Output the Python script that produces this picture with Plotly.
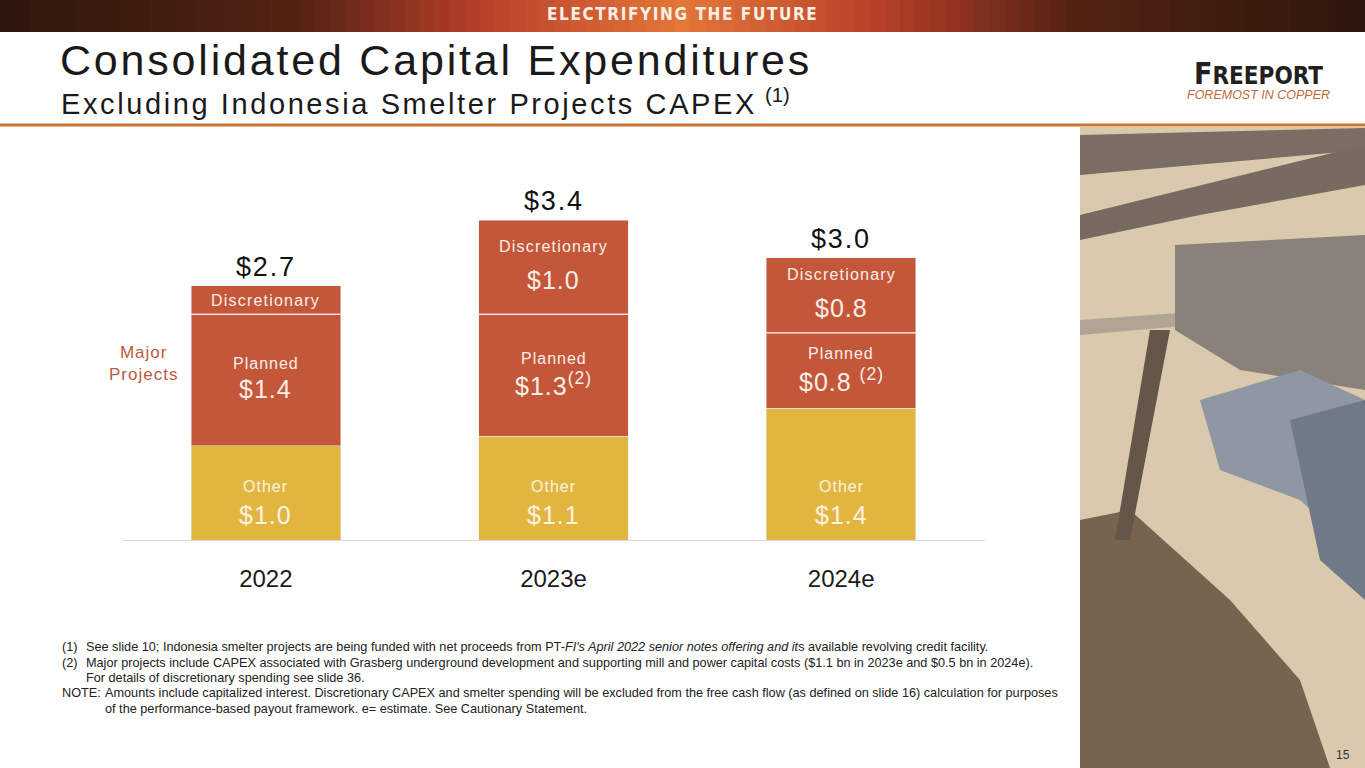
import plotly.graph_objects as go

# chart data (US$ billions)
years = ["2022", "2023e", "2024e"]
other = [1.0, 1.1, 1.4]
planned = [1.4, 1.3, 0.8]
discretionary = [0.3, 1.0, 0.8]
total_labels = ["$2.7", "$3.4", "$3.0"]
other_labels = ["$1.0", "$1.1", "$1.4"]
planned_labels = ["$1.4", "$1.3<sup>(2)</sup>", "$0.8 <sup>(2)</sup>"]
disc_labels = ["", "$1.0", "$0.8"]

footnotes = [
    ("(1)", "See slide 10; Indonesia smelter projects are being funded with net proceeds from PT-<i>FI's April 2022 senior notes offering and it</i>s available revolving credit facility."),
    ("(2)", "Major projects include CAPEX associated with Grasberg underground development and supporting mill and power capital costs ($1.1 bn in 2023e and $0.5 bn in 2024e)."),
    ("", "For details of discretionary spending see slide 36."),
    ("NOTE:", "Amounts include capitalized interest. Discretionary CAPEX and smelter spending will be excluded from the free cash flow (as defined on slide 16) calculation for purposes"),
    ("", "of the performance-based payout framework. e= estimate. See Cautionary Statement."),
]

W, H = 1365, 768
YELLOW = "#E2B53F"
RUST = "#C4573A"
FONT = "Liberation Sans, Arial, sans-serif"

def px(x):
    return x / W

def py(y):
    return 1 - y / H

def ls(text, sp):
    # widen the tracking a little, like the slide's rendering
    return "<span style='letter-spacing:%spx'>%s</span>" % (sp, text)

def label(x, y, text, size, color="#1a1a1a", xa="center", ya="middle", **kw):
    # annotation placed in page pixels
    return dict(xref="paper", yref="paper", x=px(x), y=py(y), text=text, showarrow=False,
                xanchor=xa, yanchor=ya, font=dict(size=size, color=color, **kw))

pos = list(range(len(years)))

fig = go.Figure()
fig.add_trace(go.Bar(x=pos, y=other, marker_color=YELLOW, hoverinfo="skip"))
fig.add_trace(go.Bar(x=pos, y=planned, marker_color=RUST, hoverinfo="skip"))
fig.add_trace(go.Bar(x=pos, y=discretionary, marker_color=RUST, hoverinfo="skip"))

ann = []
shapes = []
for i in pos:
    tot = other[i] + planned[i] + discretionary[i]
    seg = dict(x=i, xref="x", yref="y", showarrow=False, xanchor="center", yanchor="middle")
    ann.append(dict(seg, y=tot, text=ls(total_labels[i], 1.8), yanchor="bottom", yshift=2,
                    font=dict(size=27, color="#111")))
    # other segment
    ann.append(dict(seg, y=0, text=ls("Other", 1), yshift=54, font=dict(size=16, color="#fbf3e2")))
    ann.append(dict(seg, y=0, text=ls(other_labels[i], 1), yshift=25, font=dict(size=25, color="#fbf3e2")))
    # planned segment
    mid_p = other[i] + planned[i] / 2
    ann.append(dict(seg, y=mid_p, text=ls("Planned", 1), yshift=17, font=dict(size=16, color="#fbeee8")))
    ann.append(dict(seg, y=mid_p, text=ls(planned_labels[i], 1), yshift=-9, font=dict(size=25, color="#fbeee8")))
    # discretionary segment
    mid_d = other[i] + planned[i] + discretionary[i] / 2
    ann.append(dict(seg, y=mid_d, text=ls("Discretionary", 1.2), yshift=21 if disc_labels[i] else 0,
                    font=dict(size=16, color="#fbeee8")))
    if disc_labels[i]:
        ann.append(dict(seg, y=mid_d, text=ls(disc_labels[i], 1), yshift=-13, font=dict(size=25, color="#fbeee8")))
    # white divider between planned and discretionary
    shapes.append(dict(type="line", xref="x", yref="y", x0=i - 0.26, x1=i + 0.26,
                       y0=other[i] + planned[i], y1=other[i] + planned[i],
                       line=dict(color="white", width=1)))

ann.append(label(143, 364, ls("Major<br>Projects", 1), 17, "#B85B40"))

# header banner (horizontal gradient made of thin strips)
def mix(c1, c2, t):
    a = [int(c1[k:k + 2], 16) for k in (1, 3, 5)]
    b = [int(c2[k:k + 2], 16) for k in (1, 3, 5)]
    return "#%02x%02x%02x" % tuple(int(a[j] + (b[j] - a[j]) * t) for j in range(3))

stops = [(0, "#2e170d"), (300, "#552314"), (480, "#b8402a"), (683, "#e4773a"),
         (880, "#b8402a"), (1070, "#552314"), (1365, "#2e170d")]
step = 15
for x0 in range(0, W, step):
    xc = x0 + step / 2
    for k in range(len(stops) - 1):
        if stops[k][0] <= xc <= stops[k + 1][0]:
            t = (xc - stops[k][0]) / (stops[k + 1][0] - stops[k][0])
            col = mix(stops[k][1], stops[k + 1][1], t)
    shapes.append(dict(type="rect", xref="paper", yref="paper", x0=px(x0), x1=px(x0 + step + 1),
                       y0=py(32), y1=1, fillcolor=col, line=dict(width=0), layer="below"))

ann.append(label(682, 14, ls("ELECTRIFYING THE FUTURE", 1.6), 17, "#fbeee4",
                 family="Liberation Sans Narrow, DejaVu Sans Condensed, sans-serif", weight="bold"))

# title block
ann.append(label(58, 60, ls("Consolidated Capital Expenditures", 2.8), 43, xa="left"))
ann.append(label(59, 102, ls("Excluding Indonesia Smelter Projects CAPEX", 2.6) + " <sup>(1)</sup>", 29, xa="left"))
shapes.append(dict(type="line", xref="paper", yref="paper", x0=0, x1=1, y0=py(125), y1=py(125),
                   line=dict(color="#C8742F", width=3)))

# logo
ann.append(label(1258, 73, "F<span style='font-size:24px'>REEPORT</span>", 30, "#231f20",
                 family="DejaVu Sans Condensed, sans-serif", weight="bold"))
ann.append(label(1258, 95, "<i>FOREMOST IN COPPER</i>", 12.5, "#C0693D"))

# photo panel (stylised)
shapes.append(dict(type="rect", xref="paper", yref="paper", x0=px(1080), x1=1, y0=0, y1=py(127),
                   fillcolor="#d9c9ad", line=dict(width=0), layer="below"))
photo_paths = [
    ("M1080,135 L1365,128 L1365,150 L1080,175 Z", "#7a6e64"),
    ("M1080,215 L1365,145 L1365,185 L1200,215 L1080,240 Z", "#776a60"),
    ("M1080,320 L1365,300 L1365,310 L1080,335 Z", "#b0a494"),
    ("M1175,245 L1365,235 L1365,390 L1240,370 L1175,330 Z", "#8a817a"),
    ("M1200,400 L1300,370 L1365,400 L1365,560 L1300,500 L1220,470 Z", "#8e97a2"),
    ("M1290,420 L1365,400 L1365,600 L1320,560 Z", "#6f7987"),
    ("M1080,520 L1130,510 L1230,600 L1300,680 L1330,768 L1080,768 Z", "#76644f"),
    ("M1150,330 L1170,330 L1130,540 L1115,540 Z", "#65564a"),
]

def to_paper(path):
    out = []
    for tok in path.split():
        if tok[0] in "ML":
            a, b = tok[1:].split(",")
            out.append("%s%.5f,%.5f" % (tok[0], px(float(a)), py(float(b))))
        else:
            out.append(tok)
    return " ".join(out)

for path, col in photo_paths:
    shapes.append(dict(type="path", xref="paper", yref="paper", fillcolor=col, line=dict(width=0),
                       layer="below", path=to_paper(path)))
ann.append(label(1343, 755, "15", 12, "#333"))

# footnotes
ys = [647, 663, 678, 693, 709]
for (tag, body), yy in zip(footnotes, ys):
    if tag:
        ann.append(label(60, yy, tag, 12.7, "#222", xa="left"))
    x_body = 103 if (tag == "NOTE:" or yy == 709) else 84
    ann.append(label(x_body, yy, body, 12.7, "#222", xa="left"))

fig.update_layout(
    width=W, height=H,
    margin=dict(l=0, r=0, t=0, b=0),
    paper_bgcolor="white", plot_bgcolor="white",
    barmode="stack", bargap=0.48, showlegend=False,
    font=dict(family=FONT),
    xaxis=dict(domain=[px(122), px(985)], range=[-0.5, 2.5], tickvals=pos, ticktext=years,
               showline=True, linecolor="#d9d9d9", linewidth=1, ticks="", zeroline=False,
               tickfont=dict(size=24, color="#1a1a1a"), ticklabelstandoff=17, showgrid=False),
    yaxis=dict(domain=[py(540), py(173)], range=[0, 3.9], visible=False, showgrid=False),
    annotations=ann,
    shapes=shapes,
)

fig.write_html("out.html", config={"displayModeBar": False},
               post_script="document.body.style.margin='0';")
